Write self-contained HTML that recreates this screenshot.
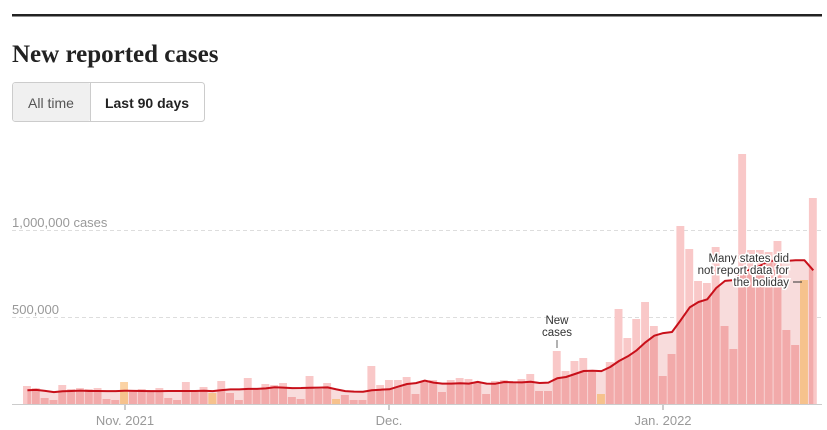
<!DOCTYPE html>
<html><head><meta charset="utf-8"><style>
body{margin:0;width:827px;height:430px;background:#fff;overflow:hidden;font-family:"Liberation Sans",sans-serif}
</style></head><body>
<svg id="s" width="827" height="430" xmlns="http://www.w3.org/2000/svg" style="position:absolute;left:0;top:0">
<rect x="12" y="14" width="810" height="2.5" fill="#222"/>
<text x="12" y="62" font-family="Liberation Serif,serif" font-weight="bold" font-size="25" fill="#222">New reported cases</text>
<rect x="12.5" y="82.5" width="192" height="39" rx="3" fill="#fff" stroke="#ccc"/>
<rect x="13" y="83" width="77" height="38" rx="2" fill="#f0f0f0"/>
<line x1="90.5" y1="83" x2="90.5" y2="121" stroke="#ccc"/>
<text x="51" y="108" text-anchor="middle" font-size="14" fill="#555">All time</text>
<text x="147" y="108" text-anchor="middle" font-size="14" font-weight="bold" fill="#222">Last 90 days</text>
<g id="g"></g>
</svg>
<script>
var h=[18,16,6,4,19,15,16,15,16,5,4,22,14,15,14,16,6,4,22,14,17,11,23,11,4,26,14,20,19,21,7,5,28,15,21,5,9,4,4,38,19,24,24,27,10,22,24,12,24,26,25,22,10,23,24,22,25,30,13,13,53,33,43,46,32,10,42,95,66,85,102,78,28,50,178,155,123,121,157,78,55,250,154,154,152,163,74,59,124,206];
var orange={11:1,21:1,35:1,65:1,88:1};
var B=404,W=8.83,x0=23,s='';
var pad=[13,13,13,13,13,13].concat(h);
var avg=h.map(function(v,i){var a=0;for(var j=i;j<=i+6;j++){a+=pad[j];}return a/7;});
avg[88]=avg[87];avg[89]=avg[88]*0.93;
var pts=avg.map(function(v,i){return [(x0+i*W+W/2).toFixed(1),(B-v).toFixed(1)];});
var area='M'+pts[0][0]+','+B+' '+pts.map(function(p){return 'L'+p[0]+','+p[1];}).join(' ')+' L'+pts[89][0]+','+B+'Z';
s+='<defs><clipPath id="c"><path d="'+area+'"/></clipPath></defs>';
s+='<line x1="12" y1="230.5" x2="822" y2="230.5" stroke="#ddd" stroke-dasharray="4,3"/>';
s+='<line x1="12" y1="317.5" x2="822" y2="317.5" stroke="#ddd" stroke-dasharray="4,3"/>';
s+='<text x="12" y="227" font-size="13" fill="#999">1,000,000 cases</text>';
s+='<text x="12" y="314" font-size="13" fill="#999">500,000</text>';
s+='<path d="'+area+'" fill="#f8dcdc"/>';
var bars='',bars2='';
h.forEach(function(v,i){var x=(x0+i*W).toFixed(1);var o=orange[i];
bars+='<rect x="'+x+'" y="'+(B-v)+'" width="7.9" height="'+v+'" fill="'+(o?'#fbd3a5':'#f9c8c8')+'"/>';
bars2+='<rect x="'+x+'" y="'+(B-v)+'" width="7.9" height="'+v+'" fill="'+(o?'#f6c28d':'#f2aaaa')+'"/>';});
s+=bars+'<g clip-path="url(#c)">'+bars2+'</g>';
s+='<polyline points="'+pts.map(function(p){return p.join(',');}).join(' ')+'" fill="none" stroke="#c8101a" stroke-width="2" stroke-linejoin="round"/>';
s+='<line x1="12" y1="404.5" x2="822" y2="404.5" stroke="#ccc"/>';
[[125,'Nov. 2021'],[389,'Dec.'],[663,'Jan. 2022']].forEach(function(t){s+='<line x1="'+t[0]+'" y1="405" x2="'+t[0]+'" y2="410" stroke="#999"/><text x="'+t[0]+'" y="425" text-anchor="middle" font-size="13" fill="#999">'+t[1]+'</text>';});
s+='<text x="557" y="324" text-anchor="middle" font-size="11.5" fill="#333">New</text><text x="557" y="336" text-anchor="middle" font-size="11.5" fill="#333">cases</text><line x1="557" y1="340" x2="557" y2="348" stroke="#666"/>';
var st='stroke="#fff" stroke-width="3" paint-order="stroke"';
s+='<g font-size="11.5" fill="#333" text-anchor="end"><text x="789" y="262" '+st+'>Many states did</text><text x="789" y="274" '+st+'>not report data for</text><text x="789" y="286" '+st+'>the holiday</text></g><line x1="793" y1="282" x2="802" y2="282" stroke="#333"/>';
document.getElementById('g').innerHTML=s;
</script>
</body></html>
